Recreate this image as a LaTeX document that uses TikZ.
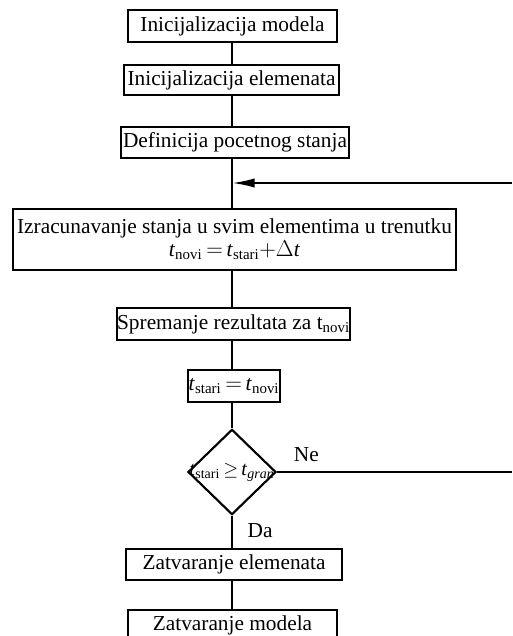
\documentclass[tikz,border=0pt]{standalone}
\usepackage{amsmath}
\usepackage{fontspec}
\setmainfont{Liberation Serif}
\usetikzlibrary{shapes,arrows,arrows.meta,positioning,calc}

\newcommand{\tvar}[1]{\textit{t}$_{\text{#1}}$}

\begin{document}
\begin{tikzpicture}[x=0.75pt, y=-0.75pt, line width=1.6pt,
        box/.style={rectangle, draw, inner sep=0pt, font=\fontsize{16}{18}\selectfont},
        cond/.style={diamond, draw, inner sep=0pt, minimum width=66pt, minimum height=64pt},
        lbl/.style={font=\fontsize{16}{18}\selectfont, inner sep=0pt}]
        \useasboundingbox (0,0) rectangle (512,636);
        \clip (0,0) rectangle (512,636);
        \node (init) [box, minimum width=157pt, minimum height=24pt] at (232.5,26) {Inicijalizacija modela};
        \node (elem) [box, minimum width=161pt, minimum height=22.5pt] at (231.5,80) {Inicijalizacija elemenata};
        \node (poc) [box, minimum width=171pt, minimum height=23pt] at (235,142.5) {Definicija pocetnog stanja};
        \node (racun) [box, minimum width=332pt, minimum height=46pt, align=center] at (234.5,239.5)
            {Izracunavanje stanja u svim elementima u trenutku\\[-1pt] \tvar{novi}$\,=\,$\tvar{stari}$+\Delta$\textit{t}};
        \node (sprem) [box, minimum width=173pt, minimum height=24pt] at (233.5,324) {Spremanje rezultata za t$_{\text{novi}}$};
        \node (pridr) [box, minimum width=69pt, minimum height=24pt] at (234,386) {\tvar{stari}$\,=\,$\tvar{novi}};
        \node (uslov) [cond] at (232,472) {};
        \node (uslovtxt) [lbl, font=\fontsize{15}{17}\selectfont] at (uslov) {\tvar{stari}$\,\geq\,$\textit{t}$_{\textit{gran}}$};
        \node (zatel) [box, minimum width=162pt, minimum height=23pt] at (234,564.5) {Zatvaranje elemenata};
        \node (zatmod) [box, minimum width=157pt, minimum height=23pt] at (232.5,625.5) {Zatvaranje modela};

        \coordinate (povrat) at (512,183);
        \coordinate (spoj) at (232,183);
        \coordinate (izlaz) at (512,472);

        \draw (232,42) -- (232,65);
        \draw (232,95) -- (232,127);
        \draw (232,158) -- (232,209);
        \draw[-{Latex[length=17pt,width=7pt]}] (povrat) -- (spoj);
        \draw (232,270) -- (232,308);
        \draw (232,340) -- (232,370);
        \draw (232,402) -- (uslov.north);
        \draw (uslov.east) -- node[lbl, above, pos=0.125, yshift=7pt] {Ne} (izlaz);
        \draw (uslov.south) -- node[lbl, right, pos=0.45, xshift=11pt] {Da} (uslov.south |- zatel.north);
        \draw (232,580) -- (232,610);
    \end{tikzpicture}
\end{document}
